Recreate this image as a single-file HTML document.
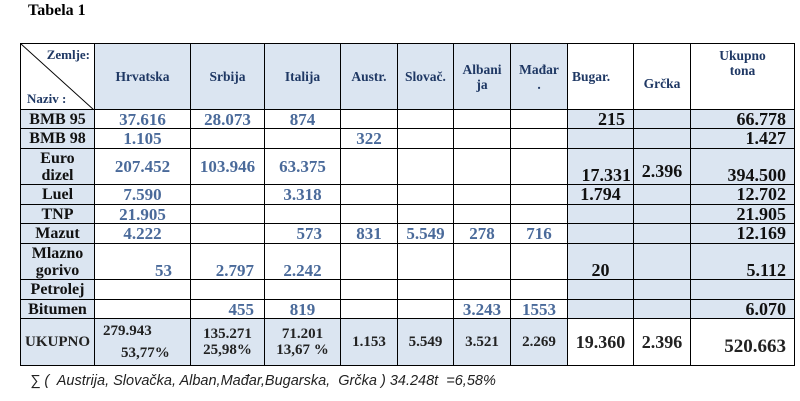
<!DOCTYPE html>
<html><head><meta charset="utf-8"><style>
body{margin:0;width:800px;height:401px;background:#fff;position:relative;font-family:"Liberation Serif",serif;overflow:hidden}
.t{position:absolute;left:28px;top:2px;font-weight:bold;font-size:16px}
table{position:absolute;left:20px;top:43px;border-collapse:collapse;table-layout:fixed}
td{border:1.5px solid #000;padding:0 4px;font-weight:bold;font-size:17px;color:#4a6a9a;white-space:nowrap;line-height:17px}
.b{background:#dbe5f1}
.h{font-size:13.5px;color:#1f3864;text-align:center;line-height:15px}
.l{color:#111;text-align:center;background:#dbe5f1;font-size:16px}
.c{text-align:center}.r{text-align:right;padding-right:8px}
.k{color:#111;font-size:18px}
.u td{font-size:15px;color:#222}
.bt{vertical-align:bottom}
.f{position:absolute;left:30px;top:373px;font-family:"Liberation Sans",sans-serif;font-style:italic;font-size:14.5px;color:#222}
</style></head><body>
<div class="t">Tabela 1</div>
<table>
<colgroup><col style="width:73px"><col style="width:96px"><col style="width:74px"><col style="width:76px"><col style="width:57px"><col style="width:56px"><col style="width:57px"><col style="width:57px"><col style="width:66px"><col style="width:57px"><col style="width:104px"></colgroup>
<tr style="height:66px"><td style="position:relative;padding:0"><svg width="73" height="66" style="position:absolute;left:0;top:0"><line x1="0" y1="0" x2="73" y2="66" stroke="#000" stroke-width="1"/></svg><div style="position:absolute;right:4px;top:2px;font-size:13px;color:#1f3864">Zemlje:</div><div style="position:absolute;left:6px;bottom:2px;font-size:13px;color:#1f3864">Naziv :</div></td>
<td class="h b">Hrvatska</td><td class="h b">Srbija</td><td class="h b">Italija</td><td class="h b">Austr.</td><td class="h b">Slovač.</td><td class="h b">Albani<br>ja</td><td class="h b">Mađar<br>.</td><td class="h" style="text-align:left">Bugar.</td><td class="h" style="padding-top:14px">Grčka</td><td class="h" style="vertical-align:top;padding-top:4px">Ukupno<br>tona</td></tr>
<tr style="height:19px"><td class="l">BMB 95</td><td class="c">37.616</td><td class="c">28.073</td><td class="c">874</td><td></td><td></td><td></td><td></td><td class="b r k">215</td><td class="b"></td><td class="b r k">66.778</td></tr>
<tr style="height:20px"><td class="l">BMB 98</td><td class="c">1.105</td><td></td><td></td><td class="c">322</td><td></td><td></td><td></td><td class="b"></td><td class="b"></td><td class="b r k">1.427</td></tr>
<tr style="height:36px"><td class="l">Euro<br>dizel</td><td class="c">207.452</td><td class="c">103.946</td><td class="c">63.375</td><td></td><td></td><td></td><td></td><td class="b r k bt" style="padding-right:2px">17.331</td><td class="b k c bt" style="padding-bottom:4px">2.396</td><td class="b r k bt">394.500</td></tr>
<tr style="height:20px"><td class="l">Luel</td><td class="c">7.590</td><td></td><td class="c">3.318</td><td></td><td></td><td></td><td></td><td class="b c k">1.794</td><td class="b"></td><td class="b r k">12.702</td></tr>
<tr style="height:19px"><td class="l">TNP</td><td class="c">21.905</td><td></td><td></td><td></td><td></td><td></td><td></td><td class="b"></td><td class="b"></td><td class="b r k">21.905</td></tr>
<tr style="height:20px"><td class="l">Mazut</td><td class="c">4.222</td><td></td><td class="r" style="padding-right:18px">573</td><td class="c">831</td><td class="c">5.549</td><td class="c">278</td><td class="c">716</td><td class="b"></td><td class="b"></td><td class="b r k">12.169</td></tr>
<tr style="height:36px"><td class="l">Mlazno<br>gorivo</td><td class="r bt" style="padding-right:18px">53</td><td class="r bt" style="padding-right:10px">2.797</td><td class="c bt">2.242</td><td></td><td></td><td></td><td></td><td class="b c k bt">20</td><td class="b"></td><td class="b r k bt">5.112</td></tr>
<tr style="height:20px"><td class="l">Petrolej</td><td></td><td></td><td></td><td></td><td></td><td></td><td></td><td class="b"></td><td class="b"></td><td class="b"></td></tr>
<tr style="height:19px"><td class="l">Bitumen</td><td></td><td class="r" style="padding-right:10px">455</td><td class="c">819</td><td></td><td></td><td class="c">3.243</td><td class="c">1553</td><td class="b"></td><td class="b"></td><td class="b r k">6.070</td></tr>
<tr class="u" style="height:47px"><td class="l">UKUPNO</td><td class="b" style="line-height:22px;padding-left:8px">279.943<br><span style="padding-left:18px">53,77%</span></td><td class="b c" style="line-height:16px">135.271<br>25,98%</td><td class="b c" style="line-height:16px">71.201<br>13,67 %</td><td class="b c">1.153</td><td class="b c">5.549</td><td class="b c">3.521</td><td class="b c">2.269</td><td class="c" style="font-size:18px;padding:0 1px">19.360</td><td class="c" style="font-size:18px">2.396</td><td class="r" style="font-size:19px;padding-top:8px">520.663</td></tr>
</table>
<div class="f">∑ (&nbsp; Austrija, Slovačka, Alban,Mađar,Bugarska,&nbsp; Grčka ) 34.248t&nbsp; =6,58%</div>
</body></html>
